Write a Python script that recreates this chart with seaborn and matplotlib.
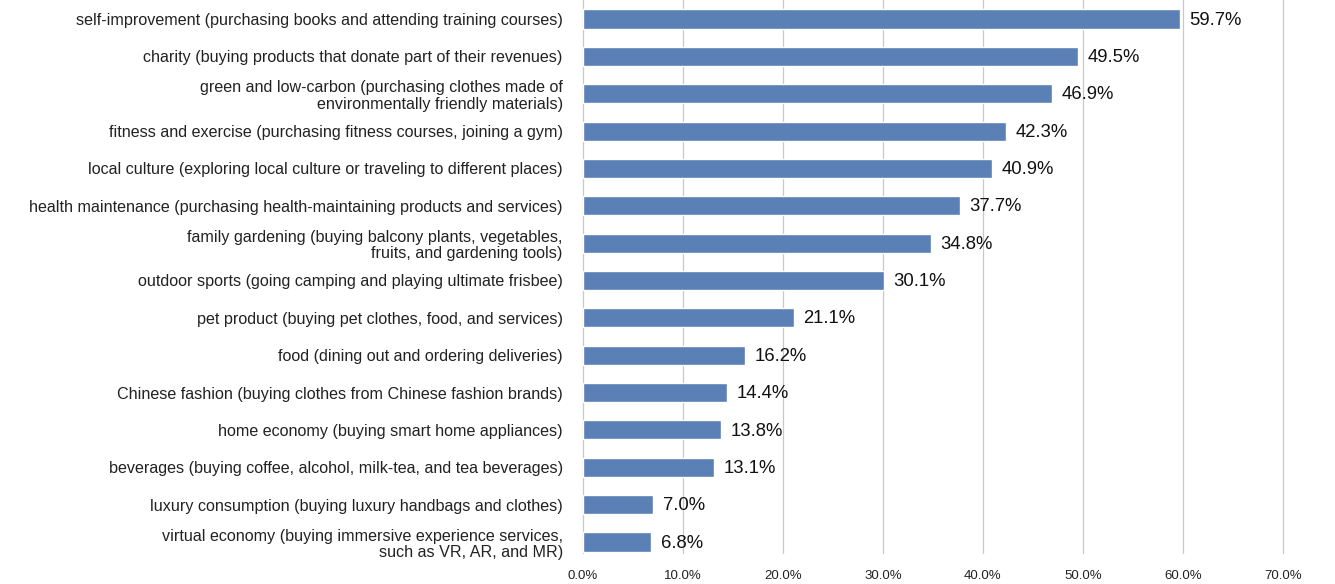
import matplotlib
matplotlib.use("Agg")
import matplotlib.pyplot as plt
import seaborn as sns
import pandas as pd
from matplotlib.ticker import FuncFormatter

categories = [
    "self-improvement (purchasing books and attending training courses)",
    "charity (buying products that donate part of their revenues)",
    "green and low-carbon (purchasing clothes made of\nenvironmentally friendly materials)",
    "fitness and exercise (purchasing fitness courses, joining a gym)",
    "local culture (exploring local culture or traveling to different places)",
    "health maintenance (purchasing health-maintaining products and services)",
    "family gardening (buying balcony plants, vegetables,\nfruits, and gardening tools)",
    "outdoor sports (going camping and playing ultimate frisbee)",
    "pet product (buying pet clothes, food, and services)",
    "food (dining out and ordering deliveries)",
    "Chinese fashion (buying clothes from Chinese fashion brands)",
    "home economy (buying smart home appliances)",
    "beverages (buying coffee, alcohol, milk-tea, and tea beverages)",
    "luxury consumption (buying luxury handbags and clothes)",
    "virtual economy (buying immersive experience services,\nsuch as VR, AR, and MR)",
]
shares = [59.7, 49.5, 46.9, 42.3, 40.9, 37.7, 34.8, 30.1, 21.1, 16.2, 14.4, 13.8, 13.1, 7.0, 6.8]
x_ticks = [0, 10, 20, 30, 40, 50, 60, 70]

df = pd.DataFrame({"category": categories, "share": shares})

sns.set_theme(style="white")
plt.rcParams["font.family"] = ["Liberation Sans", "DejaVu Sans"]

fig = plt.figure(figsize=(13.35, 5.84), dpi=100)
ax = fig.add_axes([583 / 1335, 1 - 553 / 584, 700 / 1335, 553 / 584])

sns.barplot(data=df, x="share", y="category", orient="h", color="#5b80b6",
            saturation=1, width=0.51, ax=ax, zorder=3)

ax.set_xlim(0, 70)
ax.set_ylim(14 + 11 / 37.36, -19 / 37.36)
ax.set_xticks(x_ticks)
ax.xaxis.set_major_formatter(FuncFormatter(lambda v, p: f"{v:.1f}%"))
ax.grid(axis="x", color="#c8c8c8", linewidth=0.9, zorder=0)
ax.grid(axis="y", visible=False)
for gl in ax.get_xgridlines():
    gl.set_clip_on(False)
for s in ax.spines.values():
    s.set_visible(False)
ax.tick_params(axis="x", length=0, pad=12, labelsize=9.5, labelcolor="#222222")
ax.tick_params(axis="y", length=0, pad=14.5, labelsize=11.6, labelcolor="#222222")
ax.set_xlabel("")
ax.set_ylabel("")
for lbl in ax.get_yticklabels():
    lbl.set_horizontalalignment("right")
    lbl.set_multialignment("right")
    lbl.set_linespacing(1.15)

for i, v in enumerate(shares):
    ax.text(v + 0.95, i + 0.03, f"{v:.1f}%", va="center", ha="left", fontsize=13.3, color="#111111")

fig.savefig("out.png", dpi=100)
